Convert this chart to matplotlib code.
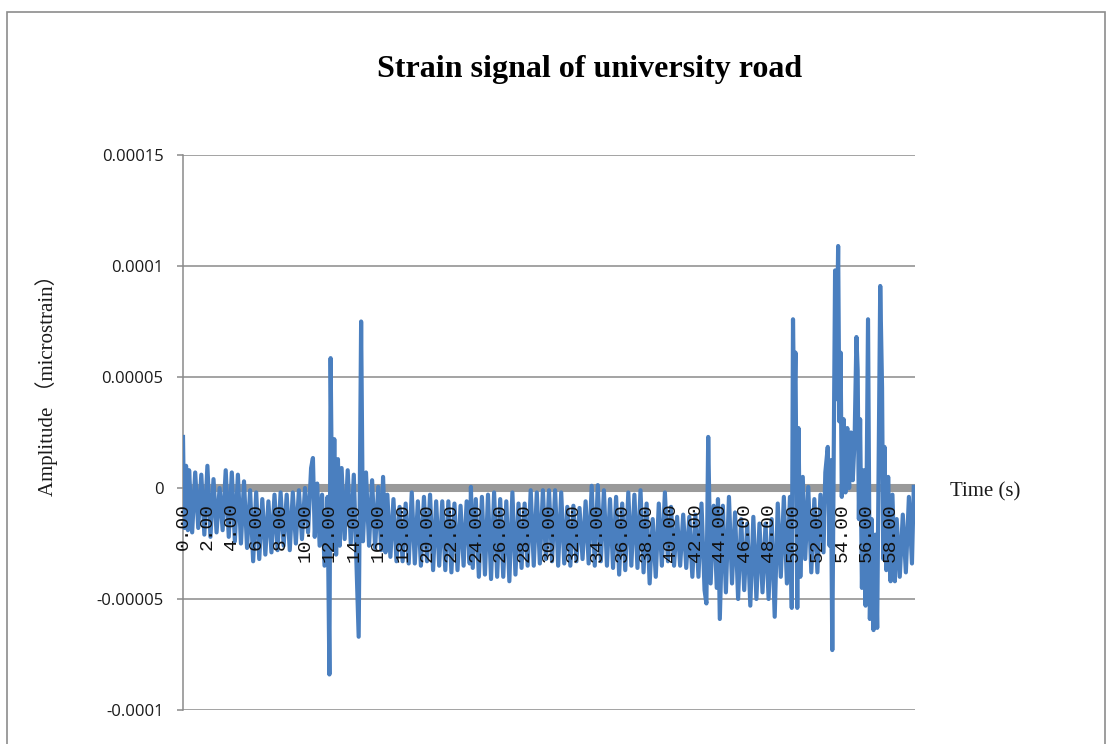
import numpy as np
import matplotlib
matplotlib.use("Agg")
import matplotlib.pyplot as plt
from matplotlib.patches import Rectangle

# Strain record (time in seconds, amplitude in units of 1e-5)
time_s = [
    0.00, 0.10, 0.25, 0.40, 0.50, 0.75, 1.00, 1.25, 1.50, 1.75,
    2.00, 2.25, 2.50, 2.75, 3.00, 3.25, 3.50, 3.75, 4.00, 4.25,
    4.50, 4.75, 5.00, 5.25, 5.50, 5.75, 6.00, 6.25, 6.50, 6.75,
    7.00, 7.25, 7.50, 7.75, 8.00, 8.25, 8.50, 8.75, 9.00, 9.25,
    9.50, 9.75, 10.00, 10.25, 10.50, 10.65, 10.80, 11.00, 11.20, 11.40,
    11.60, 11.85, 12.00, 12.10,
    12.25, 12.40, 12.55, 12.70, 12.85, 13.00, 13.25, 13.50, 13.75, 14.00,
    14.20, 14.40, 14.60, 14.75, 15.00, 15.25, 15.50, 15.75, 16.00, 16.25,
    16.40, 16.60, 16.75, 17.00, 17.25, 17.50, 17.75, 18.00, 18.25, 18.50,
    18.75, 19.00, 19.25, 19.50, 19.75, 20.00, 20.25, 20.50, 20.75, 21.00,
    21.25, 21.50, 21.75, 22.00, 22.25, 22.50, 22.75, 23.00, 23.25, 23.50,
    23.60, 23.75, 24.00, 24.25, 24.50, 24.75, 25.00, 25.25, 25.50, 25.75,
    26.00, 26.25, 26.50, 26.75, 27.00, 27.25, 27.50, 27.75, 28.00, 28.25,
    28.50, 28.75, 29.00, 29.25, 29.50, 29.75, 30.00, 30.25, 30.50, 30.75,
    31.00, 31.25, 31.50, 31.75, 32.00, 32.25, 32.50, 32.75, 33.00, 33.25,
    33.50, 33.75, 34.00, 34.25, 34.50, 34.75, 35.00, 35.25, 35.50, 35.75,
    36.00, 36.25, 36.50, 36.75, 37.00, 37.25, 37.50, 37.75, 38.00, 38.25,
    38.50, 38.75, 39.00, 39.25, 39.50, 39.75, 40.00, 40.25, 40.50, 40.75,
    41.00, 41.25, 41.50, 41.75, 42.00, 42.25, 42.50, 42.75, 42.90, 43.05,
    43.25, 43.50, 43.75, 43.85, 44.00, 44.25, 44.50, 44.75, 45.00, 45.25,
    45.50, 45.75, 46.00, 46.25, 46.50, 46.75, 47.00, 47.25, 47.50, 47.75,
    48.00, 48.25, 48.50, 48.75, 49.00, 49.25, 49.50, 49.75, 49.90, 50.00,
    50.10, 50.20, 50.35, 50.45, 50.60, 50.80, 51.00, 51.25, 51.50, 51.75,
    52.00, 52.25, 52.50, 52.65, 52.85, 53.00, 53.10, 53.22, 53.35, 53.45,
    53.55, 53.70, 53.80, 53.90, 54.00, 54.15, 54.30, 54.45, 54.60, 54.75,
    54.90, 55.05, 55.20, 55.30, 55.40, 55.50, 55.65, 55.80, 55.95, 56.15,
    56.30, 56.45, 56.60, 56.75, 56.90, 57.15, 57.30, 57.40, 57.50, 57.65,
    57.80, 58.00, 58.15, 58.35, 58.50, 58.75, 59.00, 59.25, 59.50, 59.75,
    59.90,
]
strain_1e5 = [
    2.3, -1.8, 1.0, -1.9, 0.8, -2.0, 0.7, -1.8, 0.6, -2.1,
    1.0, -2.2, 0.4, -2.0, 0.0, -1.9, 0.8, -2.2, 0.7, -2.4,
    0.6, -2.5, 0.3, -2.7, -0.1, -3.3, -0.2, -3.2, -0.5, -3.0,
    -0.6, -2.9, -0.3, -2.8, -0.2, -2.6, -0.3, -2.8, -0.2, -2.5,
    -0.1, -2.3, 0.0, -2.0, 0.9, 1.35, -2.2, 0.2, -2.6, -0.3,
    -3.5, -0.4, -8.4, 5.85,
    -2.8, 2.2, -3.0, 1.3, -2.6, 0.9, -2.3, 0.8, -2.5, 0.6,
    -3.0, -6.7, 7.5, -2.4, 0.7, -2.6, 0.35, -2.7, 0.05, -2.8,
    0.5, -2.9, -0.3, -3.1, -0.5, -3.3, -0.85, -3.3, -0.7, -3.4,
    -0.2, -3.4, -0.6, -3.5, -0.4, -3.3, -0.3, -3.7, -0.6, -3.5,
    -0.6, -3.7, -0.6, -3.8, -0.7, -3.7, -0.8, -3.5, -0.6, -3.4,
    0.05, -3.6, -0.5, -4.0, -0.4, -3.9, -0.3, -4.1, -0.2, -4.0,
    -0.5, -4.0, -0.6, -4.2, -0.2, -3.9, -0.7, -3.6, -0.7, -3.5,
    -0.1, -3.5, -0.2, -3.4, -0.1, -3.2, -0.1, -3.3, -0.1, -3.5,
    -0.2, -3.4, -0.85, -3.5, -0.8, -3.3, -0.9, -3.2, -0.6, -3.4,
    0.1, -3.5, 0.13, -3.3, -0.1, -3.5, -0.5, -3.6, -0.4, -3.9,
    -0.7, -3.7, -0.2, -3.5, -0.3, -3.6, -0.1, -3.8, -0.7, -4.3,
    -1.4, -4.0, -0.7, -3.5, -0.2, -3.3, -0.85, -3.5, -1.3, -3.5,
    -1.2, -3.6, -1.3, -4.0, -1.2, -4.0, -0.7, -4.6, -5.2, 2.3,
    -4.3, -0.8, -4.5, -0.5, -5.9, -0.8, -4.7, -0.4, -4.3, -1.1,
    -5.0, -1.4, -4.6, -1.6, -5.3, -1.3, -5.0, -1.6, -4.7, -1.6,
    -5.0, -1.4, -5.8, -0.7, -4.0, -0.4, -4.3, -0.4, -5.4, 7.6,
    3.0, 6.1, -5.4, 2.7, -4.0, 0.5, -3.2, 0.05, -3.8, -0.5,
    -3.8, -0.3, -2.9, 0.7, 1.85, -2.6, 1.25, -7.3, 2.0, 9.8,
    4.0, 10.9, 3.0, 6.1, -0.4, 3.1, -0.2, 2.7, 0.0, 2.5,
    0.35, 2.2, 6.8, 5.3, -1.4, 3.1, -4.5, 0.8, -5.3, 7.6,
    -5.9, -1.4, -6.4, -2.1, -6.3, 9.1, 4.5, -3.2, 1.85, -3.7,
    0.5, -4.2, -0.3, -4.2, -1.4, -4.0, -1.2, -3.8, -0.4, -3.4,
    0.05,
]
assert len(time_s) == len(strain_1e5)

y_ticks = [-0.0001, -0.00005, 0.0, 0.00005, 0.0001, 0.00015]
y_tick_labels = ["-0.0001", "-0.00005", "0", "0.00005", "0.0001", "0.00015"]
x_ticks = list(range(0, 60, 2))
x_tick_labels = [f"{v:.2f}" for v in x_ticks]

title = "Strain signal of university road"
y_label = "Amplitude （microstrain）"
x_label = "Time (s)"

W, H = 1113, 744
fig = plt.figure(figsize=(W / 100, H / 100), dpi=100)
fig.patch.set_facecolor("white")

# chart frame
fig.add_artist(Rectangle((7 / W, -0.05), (1105 - 7) / W, (744 - 12) / H + 0.05,
                         transform=fig.transFigure, fill=False,
                         edgecolor="#8c8c8c", linewidth=1.2))

left, right = 183 / W, 915 / W
bottom, top = 1 - 710 / H, 1 - 155 / H
ax = fig.add_axes([left, bottom, right - left, top - bottom])

amp = np.array(strain_1e5) * 1e-5
ax.plot(time_s, amp, color="#4a7fbf", linewidth=3.0, zorder=3,
        solid_joinstyle="round")

ax.set_xlim(0, 60)
ax.set_ylim(-0.0001, 0.00015)

# y axis
ax.set_yticks(y_ticks, y_tick_labels)
ax.yaxis.grid(True, color="#8a8a8a", linewidth=1.1)
ax.tick_params(axis="y", direction="out", length=4, width=1.1,
               color="#8a8a8a", pad=10, labelsize=12, labelcolor="#1a1a1a")
for lab in ax.get_yticklabels():
    lab.set_fontfamily("Open Sans")
ax.yaxis.set_zorder(0.5)

# x axis sits on the zero line
ax.spines["bottom"].set_position(("data", 0))
ax.spines["bottom"].set_color("#9a9a9a")
ax.spines["bottom"].set_linewidth(5.8)
ax.spines["bottom"].set_zorder(1.9)
ax.spines["bottom"].set_capstyle("butt")
ax.spines["left"].set_color("#8a8a8a")
ax.spines["left"].set_linewidth(1.1)
ax.spines["top"].set_visible(False)
ax.spines["right"].set_visible(False)

ax.set_xticks(x_ticks, x_tick_labels)
ax.tick_params(axis="x", length=0, pad=11, labelsize=14,
               labelrotation=90, labelcolor="#111111")
for lab in ax.get_xticklabels():
    lab.set_fontfamily("Liberation Mono")
ax.xaxis.set_zorder(4)

ax.set_facecolor("none")

fig.text(590 / W, 1 - 70 / H, title, ha="center", va="center",
         fontsize=23, fontweight="bold", family="Liberation Serif")
fig.text(47 / W, 1 - 380 / H, y_label, ha="center", va="center",
         rotation=90, fontsize=15,
         family=["Liberation Serif", "Noto Sans CJK SC"], color="#1a1a1a")
fig.text(950 / W, 1 - 492 / H, x_label, ha="left", va="center",
         fontsize=15, family="Liberation Serif", color="#1a1a1a")

fig.savefig("out.png", dpi=100, facecolor="white")
